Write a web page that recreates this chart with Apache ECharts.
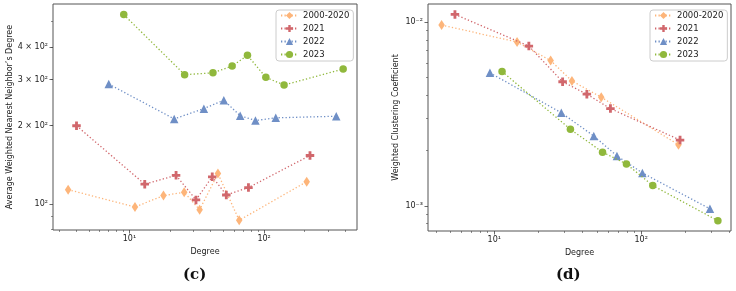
<!DOCTYPE html>
<html>
<head>
<meta charset="utf-8">
<script src="https://cdn.jsdelivr.net/npm/echarts@6/dist/echarts.min.js"></script>
<style>
  html, body { margin: 0; padding: 0; background: #fff; }
  #chart { width: 736px; height: 291px; }
</style>
</head>
<body>
<div id="chart"></div>
<script>
// series names, shared by both panels
const seriesNames = ['2000-2020', '2021', '2022', '2023'];

// (c) average weighted nearest neighbor's degree vs degree
const knnDeg2000 = [3.51, 11.0, 17.9, 25.5, 33.2, 45.4, 65.3, 207];
const knnVal2000 = [113.7, 97.6, 107.9, 111.2, 95.3, 131, 86.8, 122];
const knnDeg2021 = [4.05, 13.0, 22.2, 31.2, 41.2, 52.4, 76.5, 219];
const knnVal2021 = [199.6, 119.3, 129, 103.9, 127.3, 108.5, 115.8, 153.6];
const knnDeg2022 = [7.03, 21.5, 35.7, 50.2, 66.4, 86.2, 122, 343];
const knnVal2022 = [288, 212, 232, 250, 218, 209, 214, 217];
const knnDeg2023 = [9.08, 25.7, 41.7, 57.9, 75.2, 103, 140.6, 386];
const knnVal2023 = [531, 313, 318, 337.6, 371, 305.6, 285.6, 329];

// (d) weighted clustering coefficient vs degree
const ccDeg2000 = [4.38, 14.3, 24.2, 33.8, 53.5, 179.5];
const ccVal2000 = [0.00963, 0.00778, 0.00617, 0.00478, 0.0039, 0.00215];
const ccDeg2021 = [5.4, 17.2, 29.2, 42.7, 61.8, 184];
const ccVal2021 = [0.0110, 0.0074, 0.00473, 0.00405, 0.00338, 0.00228];
const ccDeg2022 = [9.35, 28.6, 47.6, 68.4, 102, 294];
const ccVal2022 = [0.00529, 0.00321, 0.0024, 0.00187, 0.00151, 0.000964];
const ccDeg2023 = [11.3, 33, 54.6, 79.4, 120, 333];
const ccVal2023 = [0.00538, 0.00261, 0.00196, 0.00169, 0.00129, 0.00083];

// tick labels
const degTicks = [10, 100];
const degTickLabels = ['10\u00b9', '10\u00b2'];
const knnTicks = [100, 200, 300, 400];
const knnTickLabels = ['10\u00b2', '2 \u00d7 10\u00b2', '3 \u00d7 10\u00b2', '4 \u00d7 10\u00b2'];
const ccTicks = [0.001, 0.01];
const ccTickLabels = ['10\u207b\u00b3', '10\u207b\u00b2'];

// minor ticks
const degMinorC = [3, 4, 5, 6, 7, 8, 9, 20, 30, 40, 50, 60, 70, 80, 90, 200, 300, 400];
const degMinorD = [4, 5, 6, 7, 8, 9, 20, 30, 40, 50, 60, 70, 80, 90, 200, 300, 400];
const knnMinor = [80, 90, 200, 300, 400, 500];
const ccMinor = [0.0008, 0.0009, 0.002, 0.003, 0.004, 0.005, 0.006, 0.007, 0.008, 0.009];

const colors = ['#fdb57a', '#d1676c', '#6f8fc6', '#90b83c'];
const symbols = [
  'diamond',
  'path://M1,0H2V1H3V2H2V3H1V2H0V1H1Z',
  'triangle',
  'circle',
];
const symbolSizes = [[6.5, 10], 8.5, 8.5, 7.5];

const font = 'DejaVu Sans';

const chart = echarts.init(document.getElementById('chart'));

function pairs(xs, ys) {
  return xs.map((x, i) => [x, ys[i]]);
}

function makeAxis(dim, gridIndex, min, max, ticks, labels, minor, name, nameGap) {
  const major = {
    type: 'log',
    logBase: 10,
    gridIndex,
    min,
    max,
    name,
    nameLocation: 'middle',
    nameGap,
    nameTextStyle: { fontFamily: font, fontSize: 8, color: '#222' },
    axisLine: { show: false },
    splitLine: { show: false },
    axisTick: {
      show: true,
      length: 3.5,
      lineStyle: { color: '#444', width: 0.8 },
      customValues: ticks,
    },
    axisLabel: {
      customValues: ticks,
      fontFamily: font,
      fontSize: 8,
      color: '#222',
      margin: 5,
      formatter: (v) => {
        const i = ticks.findIndex((t) => Math.abs(t - v) / t < 1e-6);
        return i >= 0 ? labels[i] : '';
      },
    },
  };
  const minorAxis = {
    type: 'log',
    logBase: 10,
    gridIndex,
    min,
    max,
    axisLine: { show: false },
    splitLine: { show: false },
    axisLabel: { show: false },
    axisTick: {
      show: true,
      length: 2,
      lineStyle: { color: '#444', width: 0.6 },
      customValues: minor,
    },
  };
  if (dim === 'x') {
    major.position = 'bottom';
    minorAxis.position = 'bottom';
  } else {
    major.position = 'left';
    minorAxis.position = 'left';
  }
  return [major, minorAxis];
}

function makeSeries(data, gridIdx) {
  return data.map((d, i) => ({
    name: seriesNames[i],
    type: 'line',
    xAxisIndex: gridIdx * 2,
    yAxisIndex: gridIdx * 2,
    data: d,
    symbol: symbols[i],
    symbolSize: symbolSizes[i],
    showAllSymbol: true,
    color: colors[i],
    itemStyle: { color: colors[i] },
    lineStyle: { color: colors[i], width: 1.3, type: [1.3, 2.2] },
    z: 2 + i,
  }));
}

function makeLegend(left) {
  return {
    data: seriesNames,
    orient: 'vertical',
    left,
    top: 10,
    itemWidth: 17,
    itemHeight: 9,
    itemGap: 4,
    padding: [1, 4, 2, 4],
    borderColor: '#ccc',
    borderWidth: 1,
    borderRadius: 3,
    backgroundColor: 'rgba(255,255,255,0.8)',
    textStyle: { fontFamily: font, fontSize: 8.5, color: '#222' },
  };
}

const xC = makeAxis('x', 0, 2.71, 489, degTicks, degTickLabels, degMinorC, 'Degree', 18);
const yC = makeAxis('y', 0, 79.7, 583, knnTicks, knnTickLabels, knnMinor,
  'Average Weighted Nearest Neighbor\u2019s Degree', 37);
const xD = makeAxis('x', 1, 3.54, 409, degTicks, degTickLabels, degMinorD, 'Degree', 18);
const yD = makeAxis('y', 1, 0.00073, 0.01253, ccTicks, ccTickLabels, ccMinor,
  'Weighted Clustering Coefficient', 28);

const option = {
  animation: false,
  grid: [
    { left: 53, top: 4, width: 304, height: 226, show: true, borderColor: '#555', borderWidth: 1 },
    { left: 428, top: 4, width: 303, height: 227, show: true, borderColor: '#555', borderWidth: 1 },
  ],
  legend: [makeLegend(276), makeLegend(650)],
  xAxis: [...xC, ...xD],
  yAxis: [...yC, ...yD],
  series: [
    ...makeSeries([
      pairs(knnDeg2000, knnVal2000),
      pairs(knnDeg2021, knnVal2021),
      pairs(knnDeg2022, knnVal2022),
      pairs(knnDeg2023, knnVal2023),
    ], 0),
    ...makeSeries([
      pairs(ccDeg2000, ccVal2000),
      pairs(ccDeg2021, ccVal2021),
      pairs(ccDeg2022, ccVal2022),
      pairs(ccDeg2023, ccVal2023),
    ], 1),
  ],
  graphic: [
    {
      type: 'text', left: 183, top: 268,
      style: { text: '(c)', font: 'bold 15px "DejaVu Serif"', fill: '#111', textAlign: 'center' },
    },
    {
      type: 'text', left: 556, top: 268,
      style: { text: '(d)', font: 'bold 15px "DejaVu Serif"', fill: '#111', textAlign: 'center' },
    },
  ],
};
chart.setOption(option);
</script>
</body>
</html>
